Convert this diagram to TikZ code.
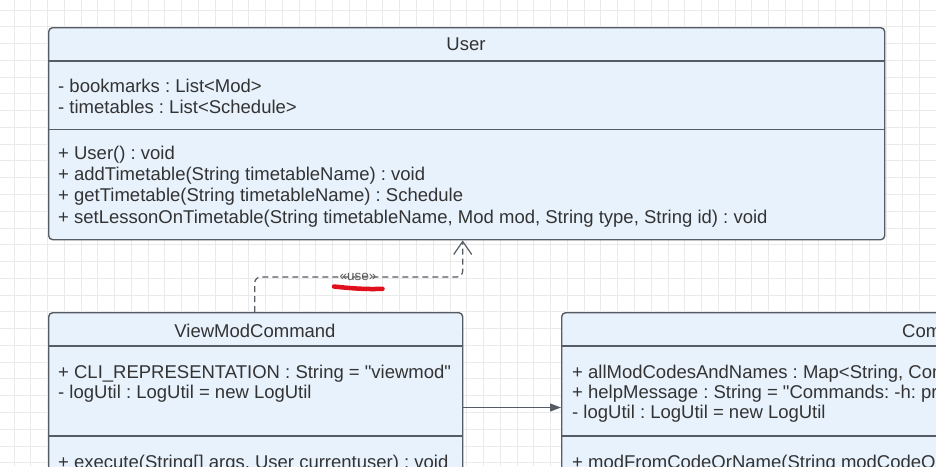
\documentclass[tikz,border=0pt]{standalone}
\usepackage{fontspec}
\setmainfont{Liberation Sans}[Ligatures=TeXOff]
\usetikzlibrary{arrows.meta}
\definecolor{boxfill}{HTML}{E8F2FD}
\definecolor{boxline}{HTML}{565C64}
\definecolor{txt}{HTML}{333333}
\definecolor{gridc}{HTML}{EAEAEA}
\definecolor{redmark}{HTML}{E0101C}
\definecolor{lbl}{HTML}{5A5A5A}
\frenchspacing
\begin{document}
\begin{tikzpicture}[x=1pt,y=-1pt,
  umlbox/.style={draw=boxline, fill=boxfill, line width=1.4pt, rounded corners=4pt, inner sep=0pt, anchor=north west},
  divider/.style={draw=boxline, line width=1.4pt},
  rowtext/.style={anchor=base west, inner sep=0pt, text=txt, font=\fontsize{18.5}{21}\selectfont},
  titletext/.style={anchor=base, inner sep=0pt, text=txt, font=\fontsize{18.5}{21}\selectfont},
  connector/.style={draw=boxline, line width=1.2pt},
  gridline/.style={draw=gridc, line width=1pt}
]
\useasboundingbox (0,0) rectangle (936,466);
\begin{scope}
\clip (0,0) rectangle (936,466);
\fill[white] (0,0) rectangle (936,466);
\foreach \i in {0,...,55} \draw[gridline] ({14+\i*16.77},0) -- ++(0,466);
\foreach \i in {0,...,27} \draw[gridline] (0,{10+\i*16.77}) -- ++(936,0);

% User class
\node[umlbox, minimum width=836pt, minimum height=212pt] (user) at (48,27) {};
\draw[divider] (48,61) -- (884,61);
\draw[divider] (48,129.5) -- (884,129.5);
\node[titletext] (userT) at (466,50.5) {User};
\node[rowtext] (uA1) at (58,92.5) {- bookmarks : List<Mod>};
\node[rowtext] (uA2) at (58,113) {- timetables : List<Schedule>};
\node[rowtext] (uM1) at (58,159.5) {+ User() : void};
\node[rowtext] (uM2) at (58,180.7) {+ addTimetable(String timetableName) : void};
\node[rowtext] (uM3) at (58,201.9) {+ getTimetable(String timetableName) : Schedule};
\node[rowtext] (uM4) at (58,223.1) {+ setLessonOnTimetable(String timetableName, Mod mod, String type, String id) : void};

% ViewModCommand class
\node[umlbox, minimum width=414pt, minimum height=220pt] (vm) at (48,312) {};
\draw[divider] (48,346) -- (462,346);
\draw[divider] (48,436) -- (462,436);
\node[titletext] (vmT) at (255,337.5) {ViewModCommand};
\node[rowtext] (vmA1) at (58,378.5) {+ CLI\_REPRESENTATION : String = "viewmod"};
\node[rowtext] (vmA2) at (58,398.5) {- logUtil : LogUtil = new LogUtil};
\node[rowtext] (vmM1) at (58,468) {+ execute(String[] args, User currentuser) : void};

% Command utility class (cut off at the right edge)
\node[umlbox, minimum width=500pt, minimum height=220pt] (cu) at (561,312) {};
\draw[divider] (561,346) -- (1061,346);
\draw[divider] (561,436) -- (1061,436);
\node[rowtext] (cuT) at (902,337.5) {Com};
\node[rowtext] (cuA1) at (572,378.5) {+ allModCodesAndNames : Map<String, Com};
\node[rowtext] (cuA2) at (572,398.5) {+ helpMessage : String = "Commands: -h: pr};
\node[rowtext] (cuA3) at (572,418.5) {- logUtil : LogUtil = new LogUtil};
\node[rowtext] (cuM1) at (572,468) {+ modFromCodeOrName(String modCodeOr};

% association
\coordinate (assocY) at (0,407.5);
\draw[connector, -{Triangle[length=11pt,width=8pt]}] (vm.east |- assocY) -- (cu.west |- assocY);

% dependency <<use>>
\coordinate (useY) at (0,277);
\draw[connector, dash pattern=on 6pt off 4pt, rounded corners=6pt,
  -{Straight Barb[length=13pt,width=18pt,line width=1.2pt]}]
  ([xshift=-1pt]vm.north) -- ([xshift=-1pt]vm.north |- useY) -| ([xshift=-4pt]user.south);
\node[text=lbl, font=\fontsize{13.5}{15}\selectfont, inner sep=1pt] (useL) at (358,276.5) {«use»};

% red underline annotation
\draw[redmark, line width=4.5pt, line cap=round] (334,286.5) .. controls (352,288.5) and (368,289.5) .. (382.5,288.8);
\end{scope}
\end{tikzpicture}
\end{document}
